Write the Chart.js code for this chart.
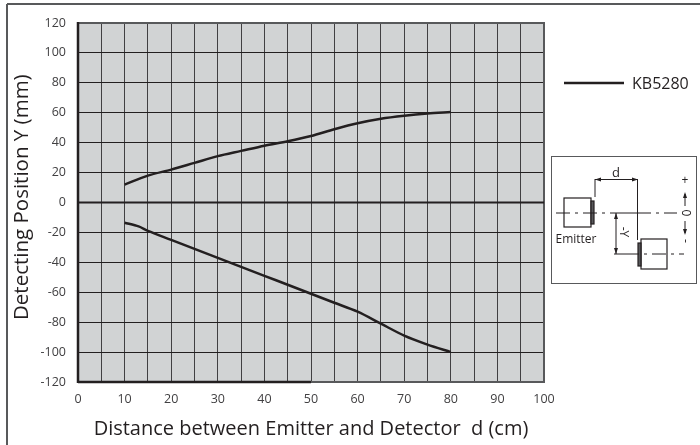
<!DOCTYPE html>
<html>
<head>
<meta charset="utf-8">
<style>
    html, body { margin: 0; padding: 0; background: #fff; }
    #wrap { width: 700px; height: 445px; position: relative; }
</style>
<script src="https://cdn.jsdelivr.net/npm/chart.js@4/dist/chart.umd.min.js"></script>
</head>
<body>
<div id="wrap"><canvas id="chart" width="700" height="445"></canvas></div>
<script>
const seriesName = 'KB5280';
const upperX = [10, 15, 20, 25, 30, 35, 40, 45, 50, 55, 60, 65, 70, 75, 80];
const upperY = [12, 18, 22, 26.5, 31, 34.5, 38, 41, 44.5, 49, 53, 56, 58, 59.5, 60.5];
const lowerX = [10, 13, 15, 20, 25, 30, 35, 40, 45, 50, 55, 60, 65, 70, 75, 80];
const lowerY = [-13.5, -16, -19, -25, -31, -37, -43, -49, -55, -61, -67, -73, -81, -89, -95, -100];

const FONT = '"Open Sans", "Noto Sans", sans-serif';
const INK = '#231f20';
const GREY = '#58595b';

function toPoints(xs, ys) {
    return xs.map((x, i) => ({ x: x, y: ys[i] }));
}

// Grey plot background, page frame and the heavier axis lines
const backdrop = {
    id: 'backdrop',
    beforeDraw(chart) {
        const { ctx, chartArea: a } = chart;
        ctx.save();
        ctx.fillStyle = '#d1d3d4';
        ctx.fillRect(a.left, a.top, a.width, a.height);
        ctx.restore();
    },
    afterDatasetsDraw(chart) {
        const { ctx, chartArea: a, scales } = chart;
        const zero = scales.y.getPixelForValue(0);
        ctx.save();
        // outer edges of the plot
        ctx.strokeStyle = GREY;
        ctx.lineWidth = 2;
        ctx.strokeRect(a.left, a.top, a.width, a.height);
        ctx.strokeStyle = INK;
        ctx.lineWidth = 2.5;
        line(ctx, a.left, a.top - 1, a.left, a.bottom + 1);
        line(ctx, a.left, a.bottom, scales.x.getPixelForValue(50), a.bottom);
        ctx.lineWidth = 2;
        line(ctx, a.left, zero, a.right, zero);
        // page frame
        ctx.strokeStyle = GREY;
        ctx.lineWidth = 2;
        line(ctx, 7, 4, 700, 4);
        line(ctx, 7, 4, 7, 445);
        ctx.restore();
    }
};

// Legend entry and the emitter/detector sketch on the right
const sideNotes = {
    id: 'sideNotes',
    afterDraw(chart) {
        const ctx = chart.ctx;
        ctx.save();
        ctx.strokeStyle = INK;
        ctx.fillStyle = INK;
        ctx.lineWidth = 2.5;
        line(ctx, 564, 83, 624, 83);
        ctx.textBaseline = 'middle';
        ctx.font = '16px ' + FONT;
        ctx.fillText(seriesName, 632, 84);

        ctx.lineWidth = 1;
        ctx.strokeStyle = GREY;
        ctx.strokeRect(551.5, 156.5, 145, 127);

        ctx.strokeStyle = INK;
        ctx.lineWidth = 1.2;
        ctx.strokeRect(564, 198, 27, 29);
        ctx.strokeRect(641, 239, 26, 30);
        ctx.fillStyle = GREY;
        ctx.fillRect(591, 201, 3, 23);
        ctx.fillRect(638, 243, 3, 23);
        ctx.strokeRect(591, 201, 3, 23);
        ctx.strokeRect(638, 243, 3, 23);

        ctx.fillStyle = INK;
        ctx.lineWidth = 1;
        line(ctx, 595, 179, 595, 197);
        line(ctx, 637.5, 179, 637.5, 240);
        line(ctx, 595, 179.5, 638, 179.5);
        line(ctx, 616, 213, 637, 213);
        line(ctx, 614, 254, 625, 254);
        line(ctx, 616, 213, 616, 254);
        arrow(ctx, 595, 179.5, 1, 0);
        arrow(ctx, 638, 179.5, -1, 0);
        arrow(ctx, 616, 213, 0, 1);
        arrow(ctx, 616, 254, 0, -1);

        ctx.setLineDash([14, 5, 3, 5]);
        line(ctx, 556, 213, 616, 213);
        line(ctx, 637, 213, 677, 213);
        line(ctx, 625, 254, 684, 254);
        ctx.setLineDash([]);

        ctx.textAlign = 'center';
        ctx.font = '13px ' + FONT;
        ctx.fillText('d', 616, 173);
        ctx.font = '12px ' + FONT;
        ctx.fillText('Emitter', 576, 240);
        ctx.fillText('+', 685, 181);
        rotated(ctx, '0', 685, 213);
        rotated(ctx, '-', 685, 241);
        rotated(ctx, '-Y', 623, 232);

        line(ctx, 685, 194, 685, 206);
        line(ctx, 685, 221, 685, 233);
        arrow(ctx, 685, 192, 0, 1);
        arrow(ctx, 685, 235, 0, -1);
        ctx.restore();
    }
};

function line(ctx, x1, y1, x2, y2) {
    ctx.beginPath();
    ctx.moveTo(x1, y1);
    ctx.lineTo(x2, y2);
    ctx.stroke();
}

function arrow(ctx, x, y, dx, dy) {
    ctx.beginPath();
    ctx.moveTo(x, y);
    ctx.lineTo(x + dx * 6 + dy * 2, y + dy * 6 + dx * 2);
    ctx.lineTo(x + dx * 6 - dy * 2, y + dy * 6 - dx * 2);
    ctx.closePath();
    ctx.fill();
}

function rotated(ctx, text, x, y) {
    ctx.save();
    ctx.translate(x, y);
    ctx.rotate(Math.PI / 2);
    ctx.fillText(text, 0, 0);
    ctx.restore();
}

const curveStyle = {
    borderColor: INK,
    borderWidth: 2.5,
    pointRadius: 0,
    tension: 0.3,
    fill: false
};

new Chart(document.getElementById('chart'), {
    type: 'scatter',
    data: {
        datasets: [
            { label: seriesName, data: toPoints(upperX, upperY), showLine: true, ...curveStyle },
            { label: seriesName + ' lower', data: toPoints(lowerX, lowerY), showLine: true, ...curveStyle }
        ]
    },
    options: {
        responsive: false,
        animation: false,
        layout: { padding: { left: 10, top: 23, right: 156, bottom: 0 } },
        plugins: { legend: { display: false }, tooltip: { enabled: false } },
        scales: {
            x: {
                type: 'linear',
                min: 0,
                max: 100,
                afterFit(scale) { scale.height = 63; },
                border: { color: INK, width: 1 },
                grid: { color: '#414042', lineWidth: 1, drawTicks: false },
                ticks: {
                    stepSize: 5,
                    autoSkip: false,
                    maxRotation: 0,
                    padding: 10,
                    color: '#414042',
                    font: { family: FONT, size: 12.5 },
                    callback: v => (v % 10 === 0 ? v : '')
                },
                title: {
                    display: true,
                    text: 'Distance between Emitter and Detector  d (cm)',
                    color: INK,
                    padding: { top: 4, bottom: 4 },
                    font: { family: FONT, size: 20 }
                }
            },
            y: {
                min: -120,
                max: 120,
                afterFit(scale) { scale.width = 68; },
                border: { color: INK, width: 1 },
                grid: { color: INK, lineWidth: 1, drawTicks: false },
                ticks: {
                    stepSize: 20,
                    padding: 12,
                    color: '#414042',
                    font: { family: FONT, size: 12.5 }
                },
                title: {
                    display: true,
                    text: '  Detecting Position Y (mm)',
                    color: INK,
                    padding: { top: 0, bottom: 0 },
                    font: { family: FONT, size: 20.5 }
                }
            }
        }
    },
    plugins: [backdrop, sideNotes]
});
</script>
</body>
</html>
